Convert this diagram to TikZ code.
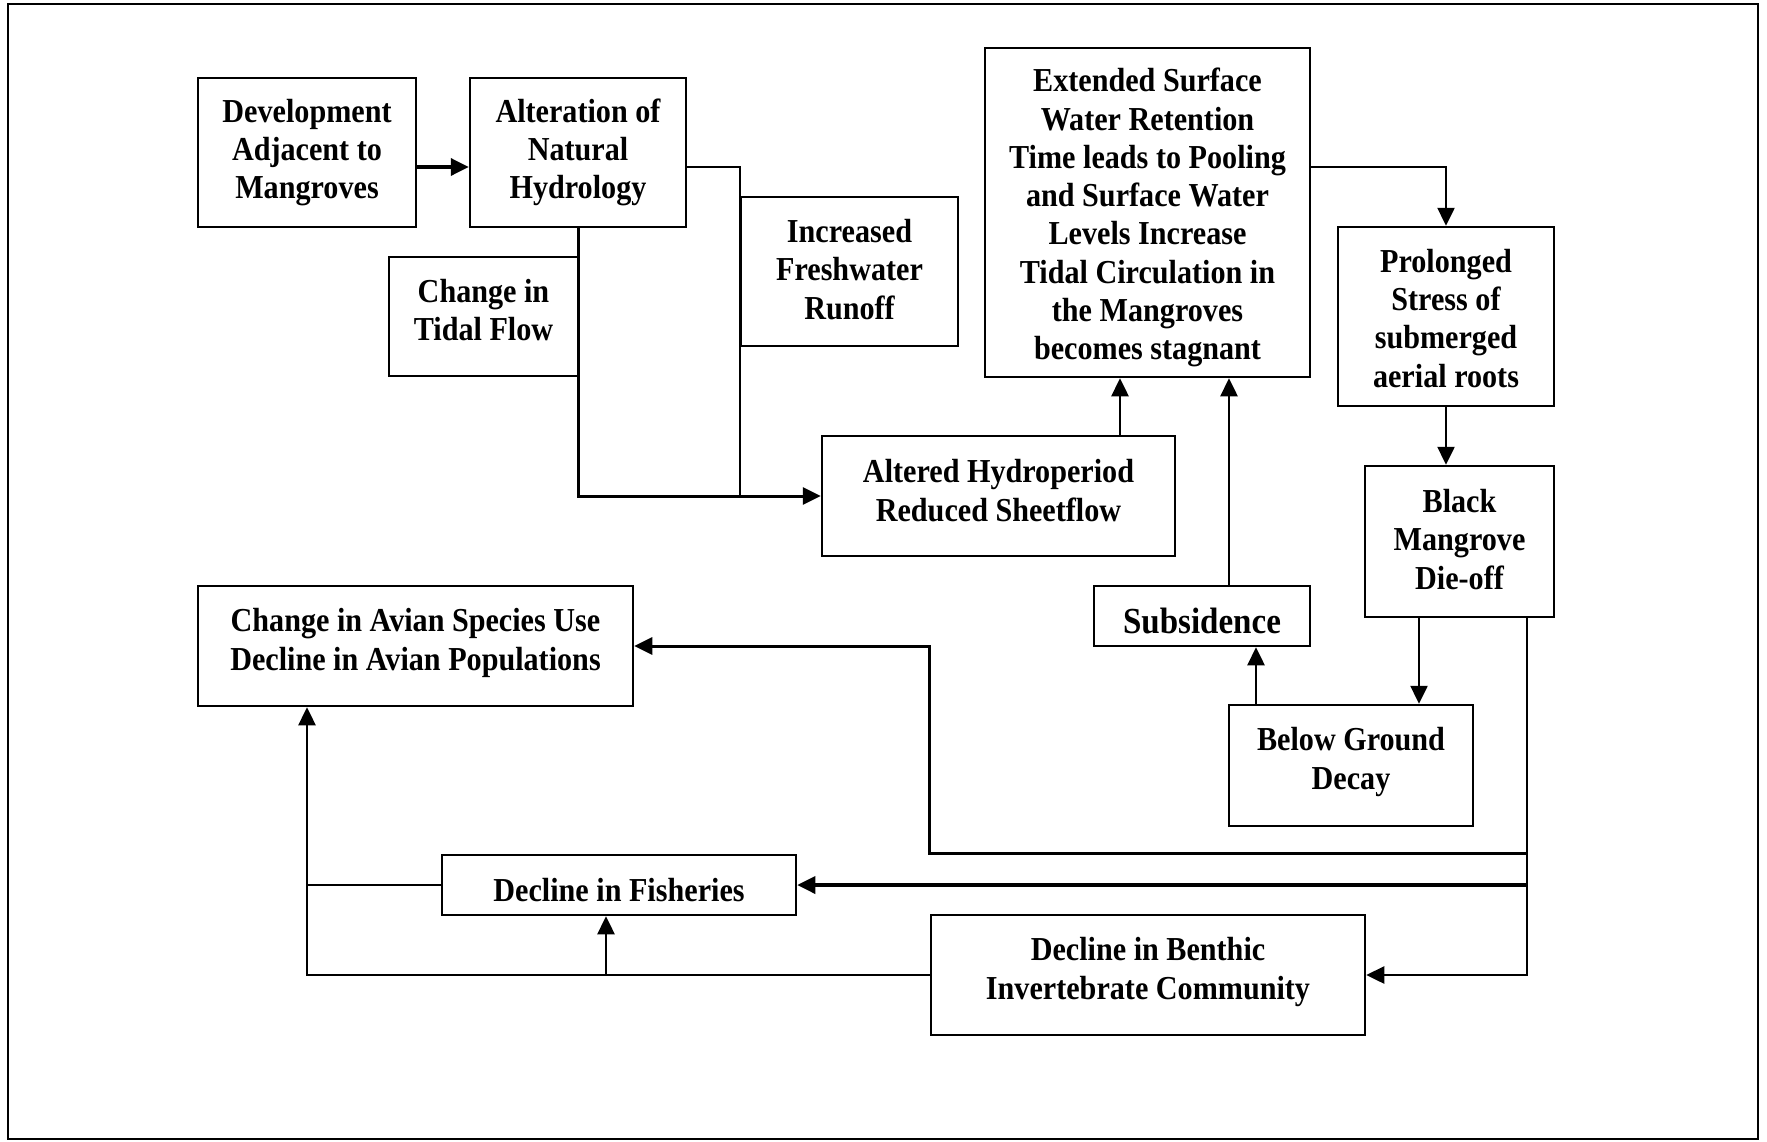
\documentclass[tikz,border=0pt]{standalone}
\usepackage{fontspec}
\newfontfamily\boxfont{Liberation Serif}[FakeStretch=0.9]
\usetikzlibrary{arrows.meta}
\newcommand\padtop[1]{\rule{0pt}{#1}}
\newcommand\padbot[1]{\rule[-#1]{0pt}{#1}}

\begin{document}
\begin{tikzpicture}[x=1pt,y=-1pt,
box/.style={draw,line width=2.5pt,align=center,inner sep=0pt,font=\boxfont\bfseries\fontsize{33.5}{38.3}\selectfont},
wire/.style={line width=2.5pt},
arr/.style={line width=2.5pt,-{Triangle[length=18pt,width=17pt]}}]
\useasboundingbox (0,0) rectangle (1767,1141);
\draw[line width=2pt] (8,4) rectangle (1758,1139);

\node[box,minimum width=218pt,minimum height=149pt] (dev) at (307,152.5) {Development\\Adjacent to\\Mangroves};
\node[box,minimum width=216pt,minimum height=149pt] (alt) at (578,152.5) {Alteration of\\Natural\\Hydrology};
\node[box,minimum width=189pt,minimum height=119pt] (tidal) at (483.5,316.5) {Change in\\Tidal Flow\padbot{13.5pt}};
\node[box,minimum width=217pt,minimum height=149pt] (fresh) at (849.5,271.5) {Increased\\Freshwater\\Runoff\padbot{4.5pt}};
\node[box,minimum width=325pt,minimum height=329pt] (ext) at (1147.5,212.5) {\padtop{34pt}Extended Surface\\Water Retention\\Time leads to Pooling\\and Surface Water\\Levels Increase\\Tidal Circulation in\\the Mangroves\\becomes stagnant};
\node[box,minimum width=216pt,minimum height=179pt] (prol) at (1446,316.5) {\padtop{27pt}Prolonged\\Stress of\\submerged\\aerial roots};
\node[box,minimum width=189pt,minimum height=151pt] (black) at (1459.5,541.5) {Black\\Mangrove\\Die-off\padbot{4.5pt}};
\node[box,minimum width=353pt,minimum height=120pt] (hydro) at (998.5,496) {Altered Hydroperiod\\Reduced Sheetflow\padbot{11pt}};
\node[box,minimum width=216pt,minimum height=60pt,font=\boxfont\bfseries\fontsize{36.7}{40}\selectfont] (subs) at (1202,616) {\padtop{36pt}Subsidence};
\node[box,minimum width=244pt,minimum height=121pt] (below) at (1351,765.5) {Below Ground\\Decay\padbot{14pt}};
\node[box,minimum width=435pt,minimum height=120pt] (avian) at (415.5,646) {Change in Avian Species Use\\Decline in Avian Populations\padbot{13pt}};
\node[box,minimum width=354pt,minimum height=60pt] (fish) at (619,885) {\padtop{34pt}Decline in Fisheries};
\node[box,minimum width=434pt,minimum height=120pt] (benthic) at (1148,975) {Decline in Benthic\\Invertebrate Community\padbot{13pt}};

\coordinate (drop) at ([xshift=67.5pt]black.south);
\coordinate (spine) at ([xshift=-108.5pt]avian.south);

\draw[arr,line width=3.5pt] ([yshift=-14.5pt]dev.east) -- ([yshift=-14.5pt]alt.west);
\draw[wire] ([yshift=-14.5pt]alt.east) -| (fresh.west |- hydro.west);
\draw[arr,line width=3pt] (alt.south) |- (hydro.west);
\draw[arr] ([xshift=121.5pt]hydro.north) -- ([xshift=121.5pt]hydro.north |- ext.south);
\draw[arr] ([xshift=27pt]subs.north) -- ([xshift=27pt]subs.north |- ext.south);
\draw[arr] ([yshift=45.5pt]ext.east) -| (prol.north);
\draw[arr] (prol.south) -- (prol.south |- black.north);
\draw[arr] ([xshift=-40.5pt]black.south) -- ([xshift=-40.5pt]black.south |- below.north);
\draw[arr] ([xshift=-95pt]below.north) -- ([xshift=-95pt]below.north |- subs.south);
\draw[arr] (drop) |- (benthic.east);
\draw[arr,line width=3pt] (drop |- fish.north) -| (benthic.west |- avian.east) -- (avian.east);
\draw[arr,line width=3.5pt] (drop |- fish.east) -- (fish.east);
\draw[arr] (benthic.west) -| (spine);
\draw[arr] ([xshift=-13pt]fish.south |- benthic.west) -- ([xshift=-13pt]fish.south);
\draw[wire] (fish.west) -- (spine |- fish.west);
\end{tikzpicture}
\end{document}
